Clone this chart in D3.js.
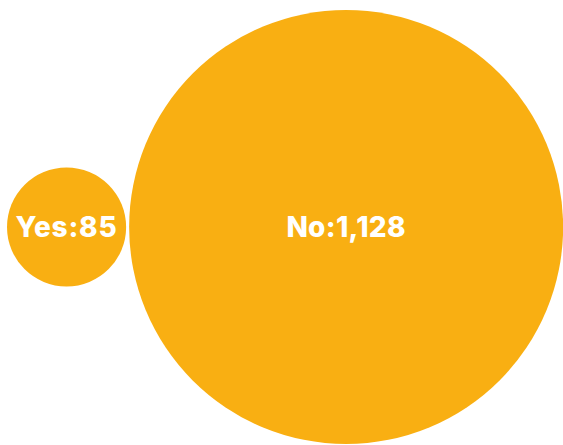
<!DOCTYPE html>
<html><head><meta charset="utf-8">
<script src="https://cdn.jsdelivr.net/npm/d3@7"></script>
<style>html,body{margin:0;padding:0;background:#fff;}</style>
</head><body>
<svg id="c" width="563" height="445"></svg>
<script>
const categories = ["Yes", "No"];
const values = [85, 1128];

const svg = d3.select("#c");
const r = d3.scaleSqrt().domain([0, 1128]).range([0, 217]);
const cy = 227;
const left = 7, gap = 3;
const fmt = d3.format(",");
const data = categories.map((c, i) => ({c, v: values[i], r: r(values[i])}));
let x = left;
data.forEach(d => { d.x = x + d.r; x += 2 * d.r + gap; });

const g = svg.selectAll("g.b").data(data).join("g").attr("class", "b");
g.append("circle").attr("cx", d => d.x).attr("cy", cy).attr("r", d => d.r).attr("fill", "#F9AF12");
g.append("text").attr("x", d => d.x).attr("y", cy).attr("dy", "0.36em")
  .attr("text-anchor", "middle").attr("fill", "#fff")
  .attr("font-family", "Inter, 'Open Sans', sans-serif").attr("font-weight", 800)
  .attr("font-size", 28).attr("letter-spacing", d => d.v > 500 ? 0.3 : 0.8)
  .text(d => d.c + ":" + fmt(d.v));
</script>
</body></html>
